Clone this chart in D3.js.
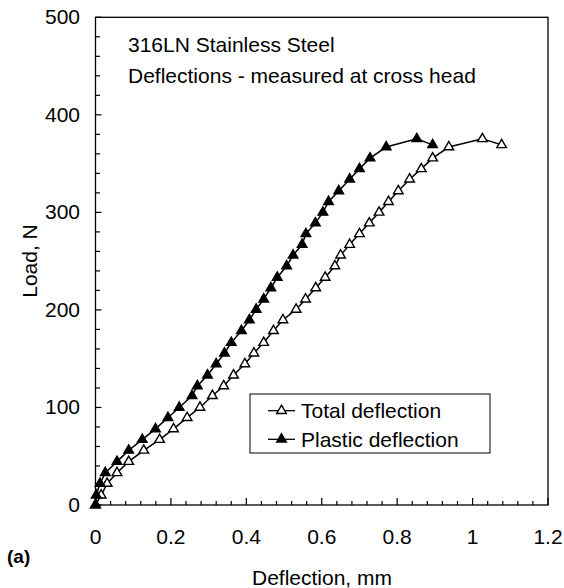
<!DOCTYPE html>
<html><head><meta charset="utf-8">
<script src="https://cdn.jsdelivr.net/npm/d3@7"></script>
<style>body{margin:0;background:#fff}svg{display:block}text{font-family:"Liberation Sans",Arial,sans-serif;fill:#000}</style>
</head><body>
<svg id="c" width="564" height="588"></svg>
<script>
const loads = [0,10,22,33,44.5,56,67,78,89.5,100,112,122,133,144.6,155.6,166.5,178.6,189.7,200.5,211,222.5,233.3,245,256,267,278,289,300,311,322,334,344.6,355.6,367,375.4,369.2];
const plasticDefl = [0,0.002,0.012,0.026,0.057,0.088,0.124,0.159,0.192,0.222,0.256,0.27,0.297,0.32,0.342,0.36,0.387,0.408,0.426,0.446,0.465,0.482,0.507,0.524,0.548,0.558,0.583,0.603,0.618,0.645,0.674,0.70,0.728,0.771,0.852,0.894];
const totalDefl = [0,0.015,0.031,0.057,0.088,0.128,0.17,0.207,0.243,0.277,0.31,0.34,0.366,0.396,0.42,0.446,0.472,0.497,0.532,0.557,0.584,0.609,0.635,0.65,0.674,0.70,0.726,0.752,0.777,0.803,0.833,0.864,0.894,0.937,1.026,1.077];
const xTicks = [0,0.2,0.4,0.6,0.8,1,1.2];
const yTicks = [0,100,200,300,400,500];
const seriesNames = ["Total deflection","Plastic deflection"];

const svg = d3.select("#c");
const L=95.5, R=548, T=17.3, B=505;
const x = d3.scaleLinear().domain([0,1.2]).range([L,R]);
const y = d3.scaleLinear().domain([0,500]).range([B,T]);
const fs = 21;

// frame
svg.append("rect").attr("x",L).attr("y",T).attr("width",R-L).attr("height",B-T)
  .attr("fill","none").attr("stroke","#000").attr("stroke-width",1.3);

// minor ticks
const xMinor = d3.range(0,1.2001,0.04);
const yMinor = d3.range(0,500.1,20);
svg.append("g").selectAll("line").data(xMinor).join("line")
  .attr("x1",d=>x(d)).attr("x2",d=>x(d)).attr("y1",B).attr("y2",d=>Math.abs(d/0.2-Math.round(d/0.2))<1e-6?B-7:B-4)
  .attr("stroke","#000").attr("stroke-width",1.2);
svg.append("g").selectAll("line").data(yMinor).join("line")
  .attr("y1",d=>y(d)).attr("y2",d=>y(d)).attr("x1",L).attr("x2",d=>d%100===0?L+6:L+4.5)
  .attr("stroke","#000").attr("stroke-width",1.2);

// tick labels
svg.append("g").selectAll("text").data(xTicks).join("text")
  .attr("x",d=>x(d)).attr("y",544).attr("text-anchor","middle").attr("font-size",fs)
  .text(d=>d3.format("")(d));
svg.append("g").selectAll("text").data(yTicks).join("text")
  .attr("x",80).attr("y",d=>y(d)+7).attr("text-anchor","end").attr("font-size",fs)
  .text(d=>d);

// axis titles
svg.append("text").attr("x",322).attr("y",585).attr("text-anchor","middle").attr("font-size",fs).text("Deflection, mm");
svg.append("text").attr("transform","translate(37,261) rotate(-90)").attr("text-anchor","middle").attr("font-size",fs).text("Load, N");
svg.append("text").attr("x",7).attr("y",563).attr("font-size",19).attr("font-weight","bold").text("(a)");

// annotation
svg.append("text").attr("x",128).attr("y",52).attr("font-size",fs).text("316LN Stainless Steel");
svg.append("text").attr("x",128).attr("y",83).attr("font-size",fs).text("Deflections - measured at cross head");

// series
const line = d3.line().x(d=>x(d[0])).y(d=>y(d[1]));
const tri = d3.symbol().type(d3.symbolTriangle).size(40);
const series = [
  {name:seriesNames[0], data:totalDefl.map((v,i)=>[v,loads[i]]), fill:"#fff"},
  {name:seriesNames[1], data:plasticDefl.map((v,i)=>[v,loads[i]]), fill:"#000"}
];
series.forEach(s=>{
  svg.append("path").attr("d",line(s.data)).attr("fill","none").attr("stroke","#000").attr("stroke-width",1.5);
  svg.append("g").selectAll("path").data(s.data).join("path")
    .attr("transform",d=>`translate(${x(d[0])},${y(d[1])})`).attr("d",tri)
    .attr("fill",s.fill).attr("stroke","#000").attr("stroke-width",1.4);
});

// legend
svg.append("rect").attr("x",250).attr("y",394).attr("width",240).attr("height",59)
  .attr("fill","#fff").attr("stroke","#000").attr("stroke-width",1);
series.forEach((s,i)=>{
  const cy = 410.7 + i*28.6;
  svg.append("line").attr("x1",268).attr("x2",295).attr("y1",cy).attr("y2",cy).attr("stroke","#000").attr("stroke-width",1.3);
  svg.append("path").attr("transform",`translate(281.5,${cy})`).attr("d",tri).attr("fill",s.fill).attr("stroke","#000").attr("stroke-width",1.4);
  svg.append("text").attr("x",301).attr("y",cy+7.5).attr("font-size",fs).text(s.name);
});
</script>
</body></html>
